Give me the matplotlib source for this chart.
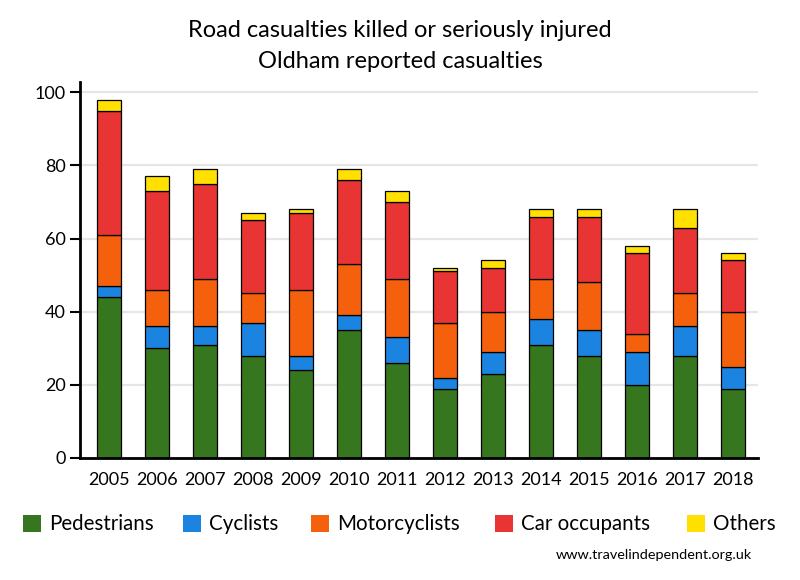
import matplotlib
matplotlib.use("Agg")
import matplotlib.pyplot as plt
from matplotlib.patches import Rectangle
import numpy as np

years = ["2005", "2006", "2007", "2008", "2009", "2010", "2011",
         "2012", "2013", "2014", "2015", "2016", "2017", "2018"]
pedestrians = [44, 30, 31, 28, 24, 35, 26, 19, 23, 31, 28, 20, 28, 19]
cyclists = [3, 6, 5, 9, 4, 4, 7, 3, 6, 7, 7, 9, 8, 6]
motorcyclists = [14, 10, 13, 8, 18, 14, 16, 15, 11, 11, 13, 5, 9, 15]
car_occupants = [34, 27, 26, 20, 21, 23, 21, 14, 12, 17, 18, 22, 18, 14]
others = [3, 4, 4, 2, 1, 3, 3, 1, 2, 2, 2, 2, 5, 2]

series_names = ["Pedestrians", "Cyclists", "Motorcyclists", "Car occupants", "Others"]
series_values = [pedestrians, cyclists, motorcyclists, car_occupants, others]
colors = ["#36761F", "#1B83E0", "#F5600C", "#E93434", "#FFE000"]
yticks = [0, 20, 40, 60, 80, 100]

FONT = "Lato"
plt.rcParams["font.family"] = [FONT, "DejaVu Sans"]

W, H = 800, 580
fig = plt.figure(figsize=(8, 5.8), dpi=100)
ax = fig.add_axes([80 / W, 1 - 458 / H, (758 - 80) / W, (458 - 82) / H])

x = np.arange(len(years))
bottom = np.zeros(len(years))
for name, vals, col in zip(series_names, series_values, colors):
    v = np.array(vals, dtype=float)
    ax.bar(x, v, 0.5, bottom=bottom, color=col, edgecolor="black",
           linewidth=0.9, zorder=3, label=name)
    bottom += v

ax.set_xlim(-0.61, 13.515)
ax.set_ylim(0, 102.8)
ax.set_yticks(yticks)
ax.set_yticklabels([str(t) for t in yticks], fontsize=13)
ax.set_xticks(x)
ax.set_xticklabels(years, fontsize=13)
ax.tick_params(axis="x", length=0, pad=10)
ax.tick_params(axis="y", length=7, width=1.5, pad=3)
ax.yaxis.grid(True, color="#E6E6E6", linewidth=1.6, zorder=0)
ax.set_axisbelow(True)
for s in ["top", "right"]:
    ax.spines[s].set_visible(False)
for s in ["left", "bottom"]:
    ax.spines[s].set_linewidth(2)
    ax.spines[s].set_zorder(4)

fig.text(400 / W, 1 - 37 / H, "Road casualties killed or seriously injured",
         ha="center", va="baseline", fontsize=17)
fig.text(400 / W, 1 - 68 / H, "Oldham reported casualties",
         ha="center", va="baseline", fontsize=17)

leg_x = [23, 183, 311, 495, 687]
for lx, name, col in zip(leg_x, series_names, colors):
    fig.patches.append(Rectangle((lx / W, 1 - 532 / H), 18 / W, 17 / H,
                                 transform=fig.transFigure, facecolor=col,
                                 edgecolor="none"))
    fig.text((lx + 26) / W, 1 - 530 / H, name, ha="left", va="baseline",
             fontsize=14.8)

fig.text(752 / W, 1 - 559 / H, "www.travelindependent.org.uk",
         ha="right", va="baseline", fontsize=10.4)

fig.savefig("out.png", dpi=100)
